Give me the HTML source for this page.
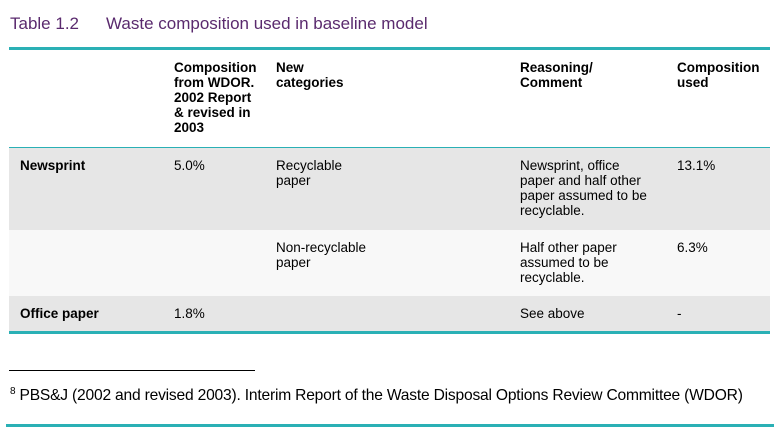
<!DOCTYPE html>
<html><head><meta charset="utf-8"><style>
body{margin:0;width:782px;height:434px;background:#fff;position:relative;overflow:hidden;font-family:"Liberation Sans",Arial,sans-serif;}
.a{position:absolute;}
.t{font-size:13.5px;line-height:15px;color:#000;white-space:nowrap;}
.b{font-weight:bold;}
</style></head><body>
<div class="a" style="left:10px;top:14px;font-size:17px;color:#5a2a6e;">Table 1.2</div>
<div class="a" style="left:106px;top:14px;font-size:17px;color:#5a2a6e;">Waste composition used in baseline model</div>
<div class="a" style="left:9px;top:47px;width:761px;height:3px;background:#2ab0b5;"></div>
<div class="a" style="left:9px;top:147px;width:761px;height:1px;background:#2ab0b5;"></div>
<div class="a" style="left:9px;top:148px;width:761px;height:82px;background:#e6e6e6;"></div>
<div class="a" style="left:9px;top:230px;width:761px;height:66px;background:#f8f8f8;"></div>
<div class="a" style="left:9px;top:296px;width:761px;height:35px;background:#e6e6e6;"></div>
<div class="a" style="left:9px;top:331px;width:761px;height:3px;background:#2ab0b5;"></div>

<div class="a t b" style="left:174px;top:60px;">Composition<br>from WDOR.<br>2002 Report<br>&amp; revised in<br>2003</div>
<div class="a t b" style="left:276px;top:60px;">New<br>categories</div>
<div class="a t b" style="left:520px;top:60px;">Reasoning/<br>Comment</div>
<div class="a t b" style="left:677px;top:60px;">Composition<br>used</div>

<div class="a t b" style="left:20px;top:158px;">Newsprint</div>
<div class="a t" style="left:174px;top:158px;">5.0%</div>
<div class="a t" style="left:276px;top:158px;">Recyclable<br>paper</div>
<div class="a t" style="left:520px;top:158px;">Newsprint, office<br>paper and half other<br>paper assumed to be<br>recyclable.</div>
<div class="a t" style="left:677px;top:158px;">13.1%</div>

<div class="a t" style="left:276px;top:240px;">Non-recyclable<br>paper</div>
<div class="a t" style="left:520px;top:240px;">Half other paper<br>assumed to be<br>recyclable.</div>
<div class="a t" style="left:677px;top:240px;">6.3%</div>

<div class="a t b" style="left:20px;top:306px;">Office paper</div>
<div class="a t" style="left:174px;top:306px;">1.8%</div>
<div class="a t" style="left:520px;top:306px;">See above</div>
<div class="a t" style="left:677px;top:306px;">-</div>

<div class="a" style="left:9px;top:370px;width:246px;height:1px;background:#000;"></div>
<div class="a" style="left:10px;top:382px;font-size:15.6px;line-height:20px;white-space:nowrap;letter-spacing:-0.2px;"><sup style="font-size:10px;">8</sup> PBS&amp;J (2002 and revised 2003). Interim Report of the Waste Disposal Options Review Committee (WDOR)</div>
<div class="a" style="left:6px;top:424px;width:768px;height:3px;background:#2ab0b5;"></div>
</body></html>
